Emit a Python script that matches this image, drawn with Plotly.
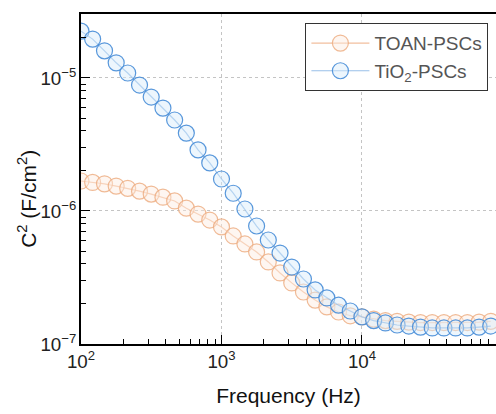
import plotly.graph_objects as go

freq_hz = [100, 121, 147, 178, 215, 261, 316, 383, 464, 562, 681, 825,
           1000, 1212, 1468, 1778, 2154, 2610, 3162, 3831, 4642, 5623, 6813, 8254,
           10000, 12115, 14678, 17783, 21544, 26102, 31623, 38312, 46416, 56234, 68129, 82540]

c2_tiO2 = [2.25e-5, 1.96e-5, 1.60e-5, 1.30e-5, 1.09e-5, 8.85e-6, 7.19e-6, 5.94e-6,
           4.83e-6, 3.85e-6, 2.88e-6, 2.30e-6, 1.74e-6, 1.36e-6, 1.035e-6, 7.71e-7,
           6.05e-7, 4.83e-7, 3.79e-7, 3.08e-7, 2.55e-7, 2.22e-7, 1.96e-7, 1.77e-7,
           1.60e-7, 1.50e-7, 1.44e-7, 1.39e-7, 1.365e-7, 1.34e-7, 1.32e-7, 1.32e-7,
           1.32e-7, 1.32e-7, 1.34e-7, 1.365e-7]

c2_toan = [1.68e-6, 1.64e-6, 1.60e-6, 1.54e-6, 1.48e-6, 1.41e-6, 1.34e-6, 1.27e-6,
           1.19e-6, 1.05e-6, 9.48e-7, 8.55e-7, 7.59e-7, 6.49e-7, 5.65e-7, 4.92e-7,
           4.14e-7, 3.42e-7, 2.88e-7, 2.46e-7, 2.14e-7, 1.90e-7, 1.74e-7, 1.63e-7,
           1.60e-7, 1.54e-7, 1.50e-7, 1.48e-7, 1.46e-7, 1.45e-7, 1.45e-7, 1.45e-7,
           1.45e-7, 1.45e-7, 1.46e-7, 1.48e-7]

series_names = ["TOAN-PSCs", "TiO<sub>2</sub>-PSCs"]

FONT = "Arial, Liberation Sans, sans-serif"

fig = go.Figure()
fig.add_trace(go.Scatter(
    x=freq_hz, y=c2_toan, name=series_names[0], mode="lines+markers",
    line=dict(color="rgba(238,170,125,0.75)", width=1.2),
    marker=dict(symbol="circle", size=16, color="rgba(252,236,224,0.45)",
                line=dict(color="rgba(236,170,125,0.8)", width=1.2)),
))
fig.add_trace(go.Scatter(
    x=freq_hz, y=c2_tiO2, name=series_names[1], mode="lines+markers",
    line=dict(color="rgba(70,140,215,0.55)", width=1.2),
    marker=dict(symbol="circle", size=16, color="rgba(215,235,250,0.45)",
                line=dict(color="rgba(70,140,215,0.9)", width=1.2)),
))

axis_common = dict(
    showline=True, linecolor="black", linewidth=1.5,
    ticks="inside", ticklen=9, tickcolor="black", tickwidth=1.2,
    showgrid=True, gridcolor="#c4c4c4", griddash="dot", gridwidth=1,
    zeroline=False, exponentformat="power", showexponent="all",
    tickfont=dict(family=FONT, size=15, color="#222"),
    minor=dict(ticks="inside", ticklen=5, tickcolor="black", tickwidth=1, showgrid=False),
)

fig.update_layout(
    width=496, height=414,
    margin=dict(l=81, r=0, t=14, b=70),
    paper_bgcolor="white", plot_bgcolor="white",
    showlegend=True,
    legend=dict(x=0.54, y=0.973, xanchor="left", yanchor="top",
                bordercolor="#333", borderwidth=1.3, bgcolor="white",
                font=dict(family=FONT, size=19, color="#555"),
                tracegroupgap=0, itemwidth=58),
    xaxis=dict(type="log", range=[2, 4.954], dtick=1, mirror=True,
               title=dict(text="Frequency (Hz)", font=dict(family=FONT, size=21, color="#111"),
                          standoff=18),
               **axis_common),
    yaxis=dict(type="log", range=[-7, -4.519], dtick=1, mirror=False,
               **axis_common),
    annotations=[dict(text="C<sup>2</sup> (F/cm<sup>2</sup>)", textangle=-90,
                      xref="paper", yref="paper", x=-0.13, y=0.44,
                      xanchor="center", yanchor="middle", showarrow=False,
                      font=dict(family=FONT, size=21, color="#111"))],
)
fig.update_xaxes(minor=dict(dtick="D1"))
fig.update_yaxes(minor=dict(dtick="D1"))

fig.write_html("out.html")
